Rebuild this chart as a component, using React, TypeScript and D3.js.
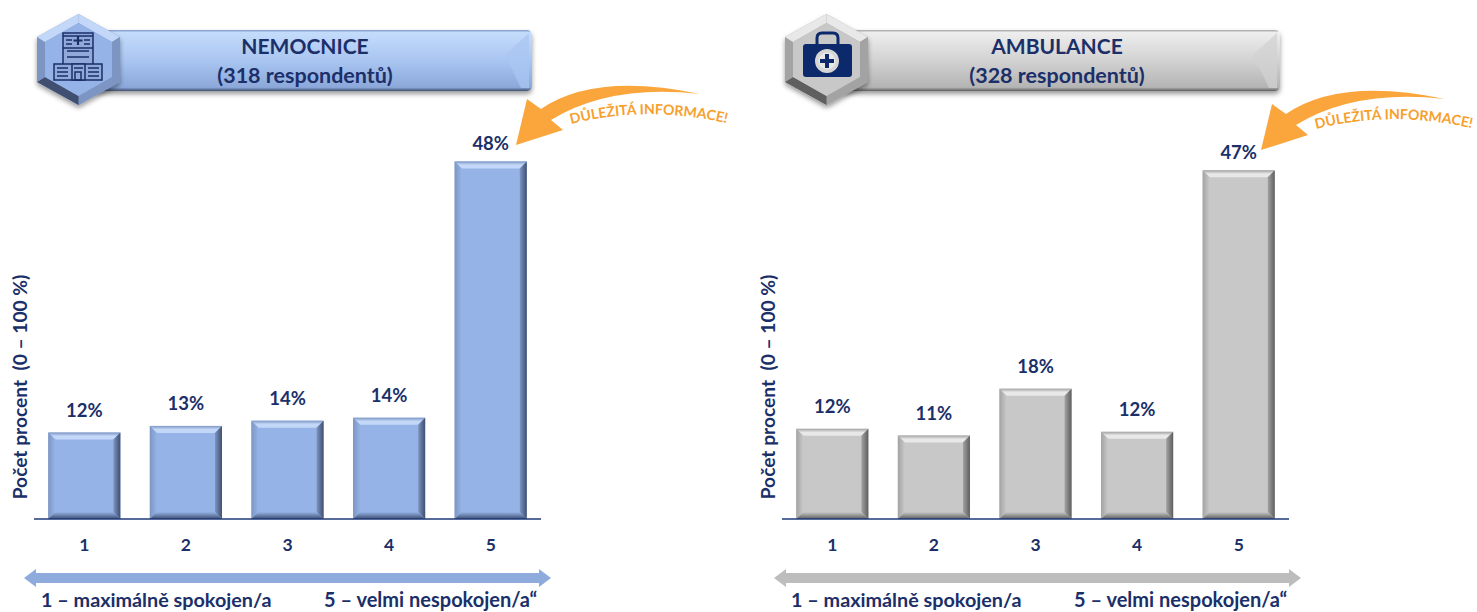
import React from 'react';
import * as d3 from 'd3';

const categories = ['1', '2', '3', '4', '5'];
const nemocniceValues = [11.6, 12.5, 13.2, 13.6, 48];
const nemocniceLabels = ['12%', '13%', '14%', '14%', '48%'];
const ambulanceValues = [12.1, 11.2, 17.5, 11.7, 46.8];
const ambulanceLabels = ['12%', '11%', '18%', '12%', '47%'];

const navy = '#1b2f69';
const font = 'Lato, "Open Sans", sans-serif';

interface PanelProps {
  id: string;
  dx: number;
  titleDx: number;
  arrowDx: number;
  arrowDy: number;
  title: string;
  subtitle: string;
  values: number[];
  labels: string[];
  colors: { fill: string; light: string; mid: string; dark: string; bandTop: string; bandMid: string; bandBottom: string; arrow: string };
  icon: 'hospital' | 'kit';
}

const HospitalIcon = () => (
  <g fill="none" stroke={navy} strokeWidth={1.5}>
    <rect x={63} y={33} width={30} height={45} fill="#8fa9d8" />
    <rect x={54} y={64} width={48} height={16} fill="#8fa9d8" />
    <rect x={72} y={64} width={13} height={16} fill="#8fa9d8" />
    <rect x={75} y={72} width={6} height={8} />
    <path d="M63 36H93M66 40H72M84 40H90M66 44H72M84 44H90M63 48H93M67 51H89M67 57H89M57 68H68M57 72H68M57 76H68M88 68H99M88 72H99M88 76H99M74 68H83" />
    <path d="M78 36v9M73.500 40.500h9" strokeWidth={2.200} />
  </g>
);

const KitIcon = () => (
  <g>
    <path d="M817 44v-6q0-5 5-5h11q5 0 5 5v6" fill="none" stroke="#0c2a6b" strokeWidth={3} />
    <rect x={803} y={44} width={49} height={33} rx={3} fill="#0c2a6b" />
    <circle cx={827} cy={61} r={12} fill="#d5d5d5" />
    <circle cx={827} cy={61} r={8.500} fill="#e8e8e8" />
    <path d="M827 54v14M820 61h14" stroke="#0c2a6b" strokeWidth={4} />
  </g>
);

const Panel: React.FC<PanelProps> = ({ id, dx, titleDx, arrowDx, arrowDy, title, subtitle, values, labels, colors, icon }) => {
  const x = d3.scaleBand<string>().domain(categories).range([34 + dx, 541 + dx]).paddingInner(0.29).paddingOuter(0.14);
  const y = d3.scaleLinear().domain([0, 100]).range([519, -226]);
  const bevel = 7;
  const cx = 305 + dx + titleDx;

  // hexagon corners, clockwise from the top, for the outer and inner ring
  const hexX = [78.5, 120, 120, 78.5, 37, 37].map((v) => v + dx);
  const hexY = [14, 37, 82, 105, 82, 37];
  const innerX = [78.5, 112, 112, 78.5, 45, 45].map((v) => v + dx);
  const innerY = [23, 42, 77, 96, 77, 42];
  const facetColors = [colors.light, colors.mid, colors.mid, colors.dark, colors.mid, colors.light];

  return (
    <g>
      <defs>
        <linearGradient id={`band-${id}`} x1="0" y1="0" x2="0" y2="1">
          <stop offset="0" stopColor={colors.mid} />
          <stop offset="0.04" stopColor={colors.bandTop} />
          <stop offset="0.5" stopColor={colors.bandMid} />
          <stop offset="0.94" stopColor={colors.bandBottom} />
          <stop offset="1" stopColor={colors.dark} />
        </linearGradient>
        <linearGradient id={`top-${id}`} x1="0" y1="0" x2="0" y2="1">
          <stop offset="0" stopColor={colors.mid} />
          <stop offset="0.5" stopColor={colors.light} />
          <stop offset="1" stopColor={colors.light} />
        </linearGradient>
        <linearGradient id={`left-${id}`} x1="0" y1="0" x2="1" y2="0">
          <stop offset="0" stopColor={colors.mid} />
          <stop offset="1" stopColor={colors.fill} />
        </linearGradient>
        <linearGradient id={`right-${id}`} x1="0" y1="0" x2="1" y2="0">
          <stop offset="0" stopColor={colors.mid} />
          <stop offset="1" stopColor={colors.dark} />
        </linearGradient>
        <linearGradient id={`bottom-${id}`} x1="0" y1="0" x2="0" y2="1">
          <stop offset="0" stopColor={colors.fill} />
          <stop offset="1" stopColor={colors.dark} />
        </linearGradient>
        <filter id={`shadow-${id}`} x="-5%" y="-20%" width="110%" height="150%">
          <feDropShadow dx="0" dy="3" stdDeviation="2.500" floodColor="#000" floodOpacity="0.4" />
        </filter>
        <filter id={`soft-${id}`}>
          <feGaussianBlur stdDeviation="0.7" />
        </filter>
      </defs>

      {/* header band */}
      <rect x={90 + dx} y={30} width={442} height={61} rx={5} fill={`url(#band-${id})`} filter={`url(#shadow-${id})`} />
      <path d={`M${505 + dx} 55 L${529 + dx} 33 V88 H${521 + dx} Z`} fill={colors.bandMid} opacity={0.75} />
      <text x={cx} y={54} textAnchor="middle" fontSize={21} fontWeight={700} fill={navy} fontFamily={font}>{title}</text>
      <text x={cx} y={83} textAnchor="middle" fontSize={21.500} fontWeight={700} fill={navy} fontFamily={font}>{subtitle}</text>

      {/* hexagon badge */}
      <path
        d={`M${hexX.map((v, i) => `${v} ${hexY[i]}`).join('L')}Z`}
        fill={colors.mid}
        filter={`url(#shadow-${id})`}
      />
      <g filter={`url(#soft-${id})`}>
        {hexX.map((v, i) => {
          const j = (i + 1) % 6;
          return (
            <path
              key={i}
              d={`M${v} ${hexY[i]}L${hexX[j]} ${hexY[j]}L${innerX[j]} ${innerY[j]}L${innerX[i]} ${innerY[i]}Z`}
              fill={facetColors[i]}
            />
          );
        })}
        <path d={`M${innerX.map((v, i) => `${v} ${innerY[i]}`).join('L')}Z`} fill={colors.fill} />
      </g>
      {icon === 'hospital' ? <HospitalIcon /> : <KitIcon />}

      {/* bars */}
      {categories.map((c, i) => {
        const x0 = x(c) as number;
        const x1 = x0 + x.bandwidth();
        const top = y(values[i]);
        const base = y(0);
        const mid = x0 + x.bandwidth() / 2;
        return (
          <g key={c}>
            <g filter={`url(#soft-${id})`}>
              <rect x={x0} y={top} width={x.bandwidth()} height={base - top} fill={colors.fill} />
              <path d={`M${x0} ${top}H${x1}L${x1 - bevel} ${top + bevel}H${x0 + bevel}Z`} fill={`url(#top-${id})`} />
              <path d={`M${x0} ${top}L${x0 + bevel} ${top + bevel}V${base - bevel}L${x0} ${base}Z`} fill={`url(#left-${id})`} />
              <path d={`M${x1} ${top}L${x1 - bevel} ${top + bevel}V${base - bevel}L${x1} ${base}Z`} fill={`url(#right-${id})`} />
              <path d={`M${x0} ${base}L${x0 + bevel} ${base - bevel}H${x1 - bevel}L${x1} ${base}Z`} fill={`url(#bottom-${id})`} />
            </g>
            <text x={mid} y={top - (values[i] > 40 ? 11 : 16)} textAnchor="middle" fontSize={18.500} fontWeight={700} fill={navy} fontFamily={font}>
              {labels[i]}
            </text>
            <text x={mid} y={551} textAnchor="middle" fontSize={17.500} fontWeight={700} fill={navy} fontFamily={font}>
              {c}
            </text>
          </g>
        );
      })}
      <line x1={34 + dx} x2={541 + dx} y1={y(0)} y2={y(0)} stroke="#1f3a7a" strokeWidth={1.600} />

      {/* y title */}
      <text
        transform={`translate(${27 + dx},387) rotate(-90)`}
        textAnchor="middle"
        fontSize={19.200}
        fontWeight={700}
        fill={navy}
        fontFamily={font}
        xmlSpace="preserve"
      >
        Počet procent  (0 – 100 %)
      </text>

      {/* scale arrow */}
      <g transform={`translate(${titleDx / 2},0)`}>
        <path
          d={`M${24 + dx} 578 L${36 + dx} 569 V573 H${539 + dx} V569 L${551 + dx} 578 L${539 + dx} 587 V583 H${36 + dx} V587 Z`}
          fill={colors.arrow}
        />
      </g>
      <text x={41 + dx + titleDx / 2} y={607} fontSize={19.800} fontWeight={700} fill={navy} fontFamily={font}>1 – maximálně spokojen/a</text>
      <text x={324 + dx + titleDx / 2} y={607} fontSize={20} fontWeight={700} fill={navy} fontFamily={font}>5 – velmi nespokojen/a“</text>

      {/* callout */}
      <g transform={`translate(${dx + arrowDx},${arrowDy})`}>
        <path d="M516 145 L527 99 L541 109 Q595 72 700 94 Q610 84 551 120 L563 130 Z" fill="#fba63c" />
        <path id={`curve-${id}`} d="M571 124 Q650 104 734 125" fill="none" />
        <text fontSize={14.100} fontWeight={700} fill="#f7a02e" fontFamily={font}>
          <textPath href={`#curve-${id}`}>DŮLEŽITÁ INFORMACE!</textPath>
        </text>
      </g>
    </g>
  );
};

const App: React.FC = () => (
  <svg width={1477} height={612} style={{ position: 'absolute', left: 0, top: 0, background: '#fff' }}>
    <Panel
      id="nemocnice"
      dx={0}
      titleDx={0}
      arrowDx={0}
      arrowDy={0}
      title="NEMOCNICE"
      subtitle="(318 respondentů)"
      values={nemocniceValues}
      labels={nemocniceLabels}
      colors={{ fill: '#95b3e7', light: '#c3d8f8', mid: '#7d95c2', dark: '#3f4f70', bandTop: '#c4dcfb', bandMid: '#a9c5f1', bandBottom: '#8ca8da', arrow: '#8fabdd' }}
      icon="hospital"
    />
    <Panel
      id="ambulance"
      dx={748}
      titleDx={4}
      arrowDx={-3}
      arrowDy={5}
      title="AMBULANCE"
      subtitle="(328 respondentů)"
      values={ambulanceValues}
      labels={ambulanceLabels}
      colors={{ fill: '#c8c8c8', light: '#e8e8e8', mid: '#a3a3a3', dark: '#5e5e5e', bandTop: '#eeeeee', bandMid: '#d2d2d2', bandBottom: '#b4b4b4', arrow: '#bdbdbd' }}
      icon="kit"
    />
  </svg>
);

export default App;
